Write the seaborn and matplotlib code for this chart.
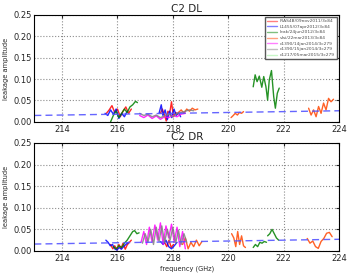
import numpy as np
import pandas as pd
import seaborn as sns
import matplotlib
matplotlib.use("Agg")
import matplotlib.pyplot as plt

# ---- data ----
labels = ["IRAS4B/09nov2011/3c84", "L1455/07apr2012/3c84", "leak/24jun2012/3c84",
          "vlsi/22mar2013/3c84", "c1390/14jan2014/3c279", "c1390/15jan2014/3c279",
          "c1217/05mar2015/3c279"]
colors = ["red", "blue", "green", "orangered", "magenta", "gray", "lightgreen"]

fit_f = [213.0, 224.0]
fit_dl = [0.015, 0.026]
fit_dr = [0.016, 0.027]

# C2 DL segments: (series index, freqs, values)
dl_segments = [
    (0, [215.60, 215.70, 215.80, 215.90, 216.00, 216.10, 216.20, 216.30, 216.40, 216.50],
        [0.020, 0.028, 0.038, 0.022, 0.030, 0.012, 0.025, 0.035, 0.020, 0.030]),
    (0, [217.55, 217.62, 217.70, 217.76, 217.82, 217.88, 217.95, 218.02, 218.10, 218.18],
        [0.020, 0.030, 0.015, 0.002, 0.025, 0.018, 0.047, 0.012, 0.022, 0.018]),
    (1, [215.55, 215.65, 215.75, 215.85, 215.95, 216.05, 216.15, 216.25, 216.35],
        [0.020, 0.015, 0.028, 0.018, 0.030, 0.008, 0.020, 0.012, 0.025]),
    (1, [217.50, 217.58, 217.64, 217.72, 217.80, 217.88, 217.96, 218.04, 218.12, 218.20, 218.28],
        [0.020, 0.040, 0.015, 0.028, 0.005, 0.025, 0.010, 0.030, 0.015, 0.022, 0.012]),
    (2, [215.75, 215.85, 215.95, 216.05, 216.15, 216.25, 216.35, 216.45, 216.55, 216.65, 216.72],
        [0.000, 0.015, 0.025, 0.010, 0.020, 0.030, 0.022, 0.035, 0.040, 0.048, 0.045]),
    (2, [220.90, 220.97, 221.04, 221.12, 221.21, 221.28, 221.36, 221.42, 221.48, 221.56, 221.64, 221.70, 221.77, 221.84],
        [0.082, 0.110, 0.094, 0.107, 0.081, 0.106, 0.082, 0.051, 0.098, 0.120, 0.059, 0.032, 0.067, 0.079]),
    (3, [218.20, 218.30, 218.40, 218.50, 218.60, 218.70, 218.80, 218.90],
        [0.022, 0.028, 0.020, 0.030, 0.025, 0.032, 0.028, 0.030]),
    (3, [220.10, 220.18, 220.25, 220.33, 220.40, 220.48, 220.55],
        [0.010, 0.015, 0.020, 0.016, 0.022, 0.020, 0.024]),
    (3, [222.90, 222.99, 223.08, 223.17, 223.26, 223.35, 223.44, 223.53, 223.62, 223.71, 223.80],
        [0.032, 0.016, 0.028, 0.012, 0.036, 0.020, 0.044, 0.028, 0.055, 0.047, 0.053]),
    (4, [216.80, 216.95, 217.10, 217.25, 217.40, 217.55, 217.70, 217.85, 218.00, 218.15, 218.30, 218.45],
        [0.015, 0.010, 0.016, 0.008, 0.014, 0.006, 0.012, 0.010, 0.015, 0.012, 0.018, 0.020]),
    (5, [216.80, 216.95, 217.10, 217.25, 217.40, 217.55, 217.70, 217.85, 218.00, 218.15, 218.30, 218.45, 218.60, 218.75],
        [0.020, 0.015, 0.018, 0.012, 0.016, 0.010, 0.014, 0.018, 0.012, 0.020, 0.022, 0.025, 0.028, 0.026]),
]

# C2 DR segments
dr_segments = [
    (0, [215.75, 215.83, 215.90, 215.98, 216.05, 216.13, 216.20, 216.28, 216.35, 216.43, 216.50],
        [0.015, 0.005, 0.012, 0.003, 0.015, 0.006, 0.018, 0.004, 0.014, 0.020, 0.025]),
    (0, [217.70, 217.78, 217.86, 217.94, 218.02],
        [0.020, 0.010, 0.025, 0.008, 0.015]),
    (1, [215.58, 215.66, 215.74, 215.82, 215.90, 215.98, 216.06, 216.14, 216.22, 216.30, 216.40],
        [0.025, 0.020, 0.012, 0.015, 0.005, 0.002, 0.008, 0.004, 0.010, 0.015, 0.020]),
    (1, [217.55, 217.65, 217.75, 217.85, 217.95, 218.05, 218.15],
        [0.022, 0.015, 0.025, 0.010, 0.005, 0.012, 0.020]),
    (2, [215.85, 215.95, 216.05, 216.15, 216.25, 216.35, 216.45, 216.55, 216.62, 216.70, 216.78],
        [0.010, 0.005, 0.012, 0.008, 0.018, 0.025, 0.035, 0.045, 0.047, 0.040, 0.042]),
    (2, [220.90, 220.98, 221.06, 221.14, 221.22, 221.30, 221.38],
        [0.008, 0.015, 0.010, 0.020, 0.018, 0.022, 0.020]),
    (2, [221.42, 221.50, 221.58, 221.66, 221.74, 221.82],
        [0.035, 0.040, 0.050, 0.040, 0.030, 0.025]),
    (3, [218.35, 218.45, 218.55, 218.65, 218.75, 218.85, 218.95, 219.05],
        [0.015, 0.030, 0.005, 0.020, 0.010, 0.025, 0.012, 0.022]),
    (3, [220.12, 220.20, 220.27, 220.34, 220.41, 220.48, 220.55, 220.62],
        [0.040, 0.030, 0.010, 0.045, 0.015, 0.035, 0.012, 0.008]),
    (3, [222.85, 222.95, 223.05, 223.15, 223.25, 223.35, 223.45, 223.55, 223.65, 223.75],
        [0.029, 0.018, 0.023, 0.010, 0.006, 0.022, 0.029, 0.041, 0.043, 0.033]),
    (4, [216.85, 216.95, 217.05, 217.15, 217.25, 217.35, 217.45, 217.55, 217.65, 217.75, 217.85, 217.95, 218.05, 218.15, 218.25, 218.35, 218.45],
        [0.020, 0.045, 0.015, 0.055, 0.020, 0.060, 0.025, 0.065, 0.015, 0.058, 0.030, 0.062, 0.020, 0.055, 0.010, 0.045, 0.005]),
    (5, [216.90, 217.00, 217.10, 217.20, 217.30, 217.40, 217.50, 217.60, 217.70, 217.80, 217.90, 218.00, 218.10, 218.20, 218.30, 218.40, 218.50],
        [0.018, 0.040, 0.020, 0.050, 0.015, 0.055, 0.022, 0.058, 0.020, 0.050, 0.025, 0.055, 0.018, 0.048, 0.015, 0.040, 0.020]),
]

sns.set_style("whitegrid", {"grid.linestyle": ":", "grid.color": "0.55",
                            "axes.edgecolor": "black", "xtick.direction": "in",
                            "ytick.direction": "in"})
plt.rcParams['font.family'] = ['DejaVu Sans']

fig = plt.figure(figsize=(3.51, 2.77), dpi=100)
ax1 = fig.add_axes([0.098, 0.560, 0.868, 0.386])
ax2 = fig.add_axes([0.098, 0.094, 0.868, 0.390])


def draw(ax, segs, fit_v, title, legend):
    for idx, f, v in segs:
        d = pd.DataFrame({"f": f, "v": v})
        sns.lineplot(data=d, x="f", y="v", ax=ax, color=colors[idx], lw=1.0,
                     alpha=0.85, sort=False, estimator=None)
    d = pd.DataFrame({"f": fit_f, "v": fit_v})
    sns.lineplot(data=d, x="f", y="v", ax=ax, color="#5555ff", lw=1.0,
                 dashes=False, linestyle=(0, (5, 3)), alpha=0.9)
    ax.set_xlim(213, 224)
    ax.set_ylim(0, 0.25)
    ax.set_xticks([214, 216, 218, 220, 222, 224])
    ax.set_yticks([0.0, 0.05, 0.10, 0.15, 0.20, 0.25])
    ax.set_yticklabels(["0.00", "0.05", "0.10", "0.15", "0.20", "0.25"])
    ax.tick_params(labelsize=6, length=2, pad=2, top=True, right=True)
    ax.set_ylabel("leakage amplitude", fontsize=4.8, labelpad=3)
    ax.set_xlabel("")
    ax.set_title(title, fontsize=7.5, pad=2)
    for s in ax.spines.values():
        s.set_linewidth(0.8)
        s.set_color("black")
    if legend:
        handles = [plt.Line2D([], [], color=c, lw=1.0, alpha=0.5) for c in colors]
        leg = ax.legend(handles, labels, loc="upper right", fontsize=3.2,
                        handlelength=2.2, borderpad=0.4, labelspacing=0.35,
                        frameon=True, fancybox=False, framealpha=1)
        leg.get_frame().set_edgecolor("0.35")
        leg.get_frame().set_linewidth(1.0)
        for t in leg.get_texts():
            t.set_color("0.3")


draw(ax1, dl_segments, fit_dl, "C2 DL", True)
draw(ax2, dr_segments, fit_dr, "C2 DR", False)
ax2.set_xlabel("frequency (GHz)", fontsize=4.8, labelpad=2)

fig.savefig("out.png", dpi=100)
